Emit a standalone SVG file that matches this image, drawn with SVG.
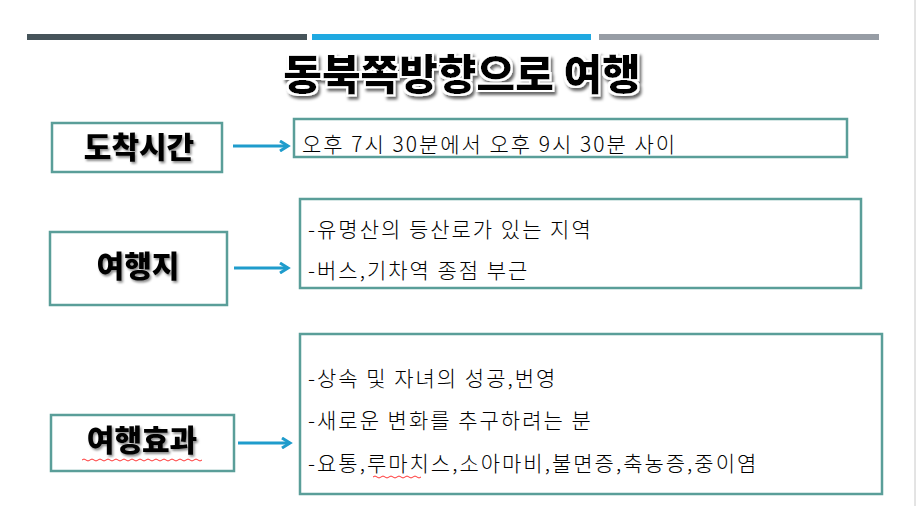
<svg xmlns="http://www.w3.org/2000/svg" width="918" height="506" viewBox="0 0 918 506">
<defs>
<style>
.box{fill:#fff;stroke:#5a9e99;stroke-width:2.5}
.lbl{font-family:"Noto Sans CJK KR",sans-serif;font-weight:900;font-size:30px;fill:#000;text-anchor:middle;filter:url(#sh)}
.txt{font-family:"Noto Sans CJK KR",sans-serif;font-weight:300;font-size:21px;letter-spacing:2px;fill:#000}
.arr{stroke:#1f9ccc;stroke-width:3;fill:none;marker-end:url(#ah)}
</style>
<filter id="sh" x="-10%" y="-20%" width="130%" height="150%"><feDropShadow dx="1.5" dy="2" stdDeviation="1.2" flood-color="#000" flood-opacity="0.45"/></filter>
<filter id="ts" x="-10%" y="-20%" width="130%" height="150%"><feMorphology in="SourceAlpha" operator="dilate" radius="2" result="d"/><feFlood flood-color="#fff"/><feComposite in2="d" operator="in" result="w"/><feDropShadow in="w" dx="2" dy="3" stdDeviation="1.5" flood-color="#000" flood-opacity="0.6" result="s"/><feMerge><feMergeNode in="s"/><feMergeNode in="SourceGraphic"/></feMerge></filter>
<marker id="ah" markerWidth="12" markerHeight="12" refX="9" refY="6" orient="auto" markerUnits="userSpaceOnUse"><path d="M1,1 L9,6 L1,11" fill="none" stroke="#1f9ccc" stroke-width="3"/></marker>
</defs>
<rect width="918" height="506" fill="#fff"/>
<line x1="915" y1="0" x2="915" y2="506" stroke="#c8c8c8" stroke-width="1"/>
<rect x="27" y="34" width="280" height="6" fill="#46545a"/>
<rect x="312" y="34" width="279" height="6" fill="#1fa9e1"/>
<rect x="599" y="34" width="280" height="6" fill="#979da5"/>
<text x="462" y="90" font-family="Noto Sans CJK KR,sans-serif" font-weight="900" font-size="42" text-anchor="middle" filter="url(#ts)">동북쪽방향으로 여행</text>
<g id="n1"><rect class="box" x="52" y="123" width="170" height="49"/><text class="lbl" x="139" y="158">도착시간</text></g>
<g id="r1"><rect class="box" x="294" y="119" width="553" height="38"/><text class="txt" x="302" y="152">오후 7시 30분에서 오후 9시 30분 사이</text></g>
<g id="n2"><rect class="box" x="50" y="232" width="177" height="73"/><text class="lbl" x="138" y="277">여행지</text></g>
<g id="r2"><rect class="box" x="300" y="199" width="561" height="89"/><text class="txt" x="308" y="237">-유명산의 등산로가 있는 지역</text><text class="txt" x="308" y="278">-버스,기차역 종점 부근</text></g>
<g id="n3"><rect class="box" x="51" y="415" width="183" height="56"/><text class="lbl" x="142" y="451">여행효과</text><path d="M82,460 q2,-2 4,0 t4,0 t4,0 t4,0 t4,0 t4,0 t4,0 t4,0 t4,0 t4,0 t4,0 t4,0 t4,0 t4,0 t4,0 t4,0 t4,0 t4,0 t4,0 t4,0 t4,0 t4,0 t4,0 t4,0 t4,0 t4,0 t4,0 t4,0 t4,0 t4,0" fill="none" stroke="#f00" stroke-width="0.8"/></g>
<g id="r3"><rect class="box" x="300" y="334" width="582" height="160"/><text class="txt" x="308" y="386">-상속 및 자녀의 성공,번영</text><text class="txt" x="308" y="428">-새로운 변화를 추구하려는 분</text><text class="txt" x="308" y="471">-요통,루마치스,소아마비,불면증,축농증,중이염</text><path d="M373,477 q2,-2 4,0 t4,0 t4,0 t4,0 t4,0 t4,0 t4,0 t4,0 t4,0 t4,0 t4,0 t4,0" fill="none" stroke="#f00" stroke-width="0.8"/></g>
<g id="connectors">
<line class="arr" x1="233" y1="146" x2="288" y2="146"/>
<line class="arr" x1="234" y1="268" x2="288" y2="268"/>
<line class="arr" x1="238" y1="443" x2="290" y2="443"/>
</g>
</svg>
